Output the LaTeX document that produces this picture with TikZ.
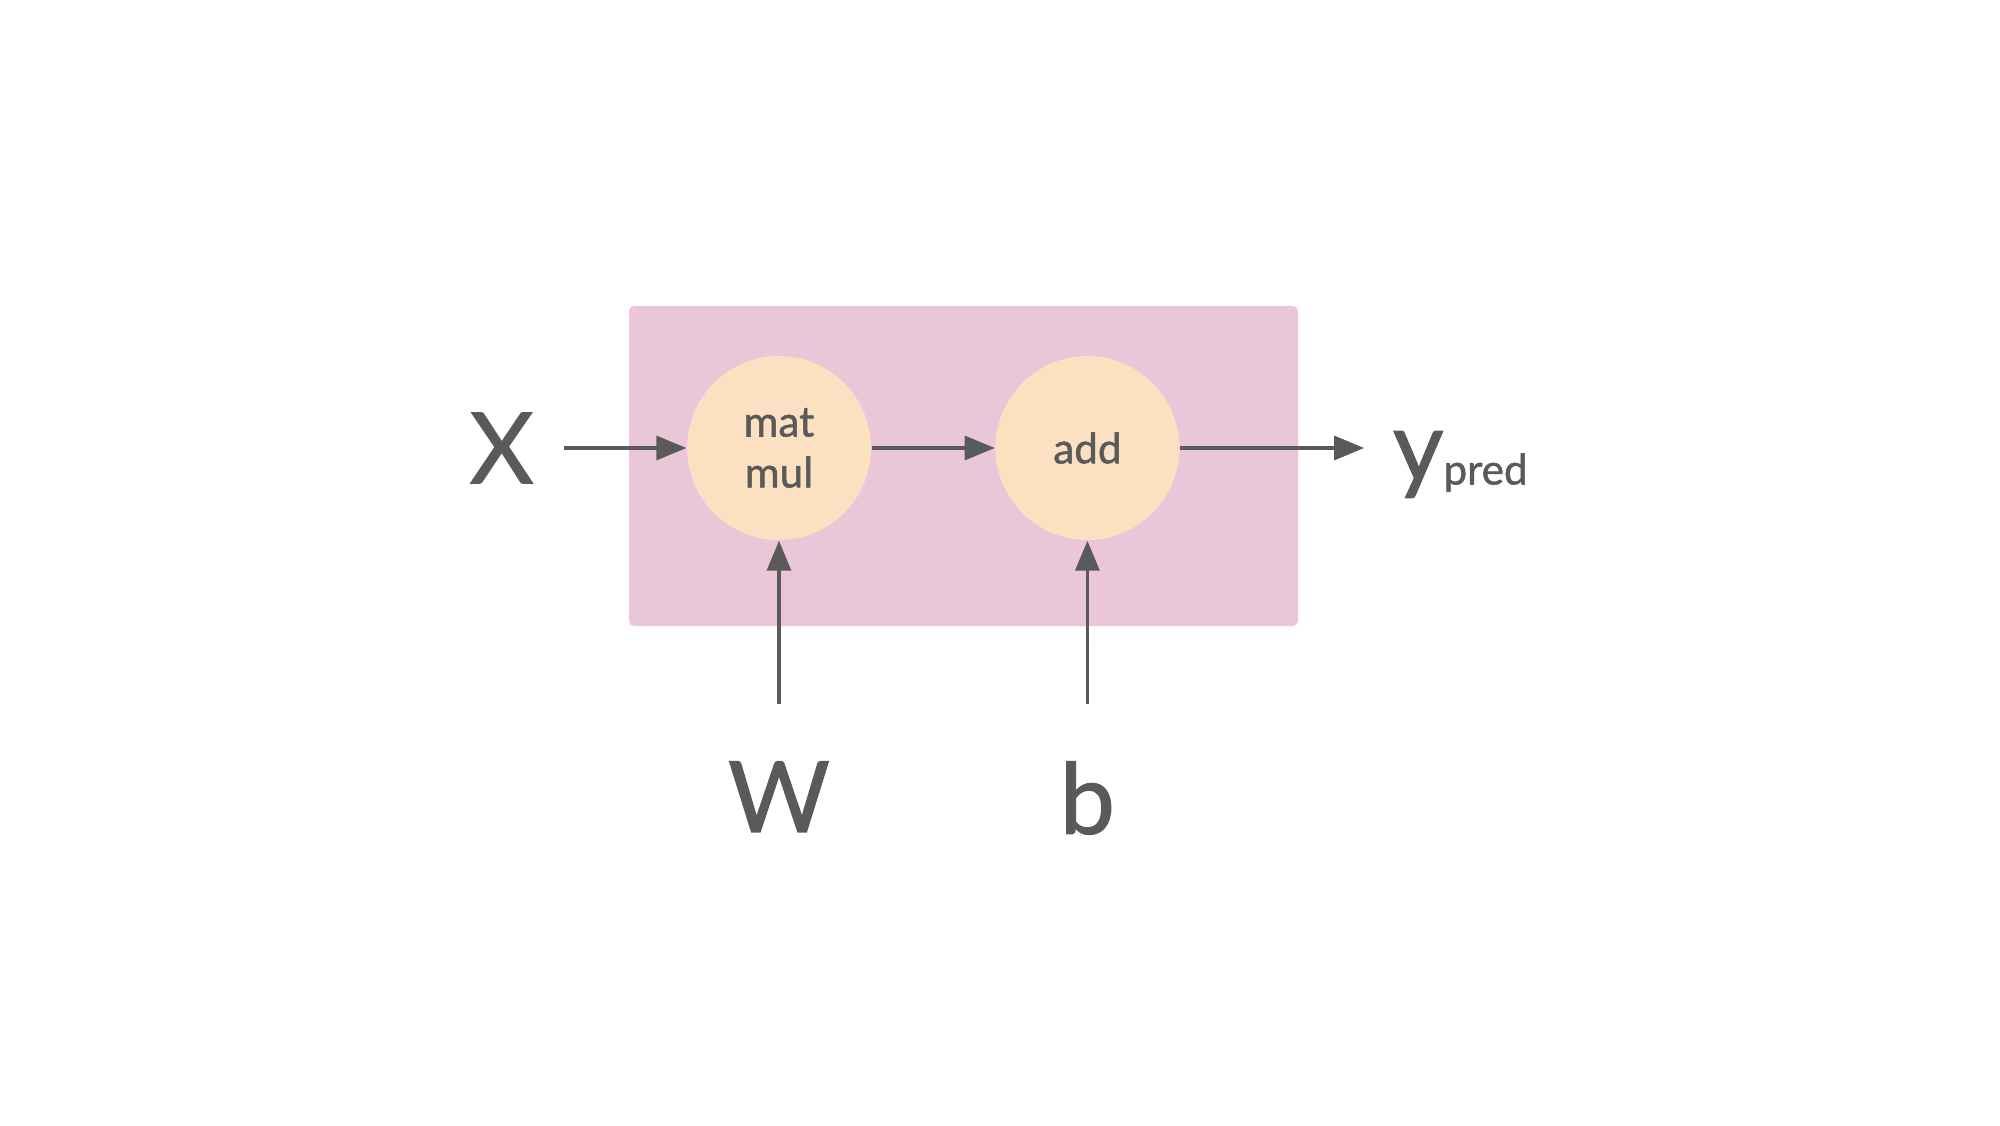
\documentclass[tikz,border=0pt]{standalone}
\usepackage{fontspec}
\setmainfont{Lato}[FakeBold=1.2]
\usetikzlibrary{positioning,arrows.meta}
\definecolor{boxpink}{RGB}{234,199,216}
\definecolor{oppeach}{RGB}{252,224,194}
\definecolor{inkgray}{RGB}{90,90,90}
\tikzset{
	opnode/.style = {circle, fill=oppeach, minimum size=1.84cm, inner sep=0pt, align=center, text=inkgray, font=\fontsize{12}{14.5}\selectfont},
	varnode/.style = {inner sep=0pt, text=inkgray, font=\fontsize{28}{30}\selectfont},
	graphbox/.style = {fill=boxpink, rounded corners=0.05cm},
	flow/.style = {draw=inkgray, line width=0.95pt, -{Triangle[length=0.3cm,width=0.24cm]}}
}

\begin{document}
\begin{tikzpicture}
\useasboundingbox (0,0) rectangle (20,11.25);
\fill [graphbox] (6.29,4.99) rectangle (12.98,8.19);
\node [opnode] (matmul) at (7.79,6.77) {mat\\mul};
\node [opnode, right=1.23cm of matmul] (add) {add};
\node [varnode, left=1.52cm of matmul] (X) {X};
\node [varnode, below=2.2cm of matmul] (W) {W};
\node [varnode, below=2.2cm of add] (b) {b};
\node [varnode, right=2.12cm of add, anchor=base west, yshift=-0.33cm] (ypred) {y\raisebox{-1pt}{\fontsize{12}{14}\selectfont pred}};
\draw [flow, shorten <=0.3cm] (X) -- (matmul);
\draw [flow] (matmul) -- (add);
\draw [flow, shorten >=0.28cm] (add) -- (add -| ypred.west);
\draw [flow, shorten <=0.57cm] (W) -- (matmul);
\draw [flow, shorten <=0.57cm] (b) -- (add);
\end{tikzpicture}
\end{document}
